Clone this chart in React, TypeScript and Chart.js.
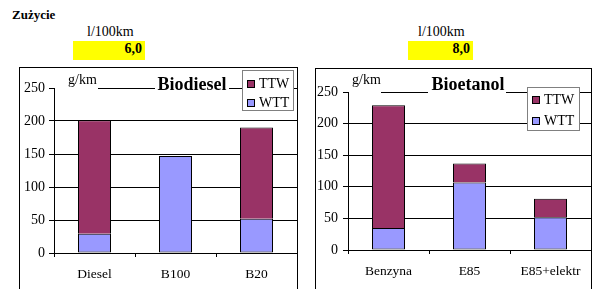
import React, { useEffect, useRef } from 'react';
import { Chart, registerables } from 'chart.js';

Chart.register(...registerables);

const FONT = "'Liberation Serif', 'Times New Roman', serif";
Chart.defaults.font.family = FONT;

const pageTitle = 'Zużycie';
const consumptionUnit = 'l/100km';
const consumptionValues = ['6,0', '8,0'];
const chartTitles = ['Biodiesel', 'Bioetanol'];
const unitLabel = 'g/km';
const seriesNames = ['WTT', 'TTW'];
const seriesColors = ['#9999FF', '#993366'];
const yTicks = [0, 50, 100, 150, 200, 250];

const biodieselCategories = ['Diesel', 'B100', 'B20'];
const biodieselWTT = [29, 147, 52];
const biodieselTTW = [172, 0, 138];

const bioetanolCategories = ['Benzyna', 'E85', 'E85+elektr'];
const bioetanolWTT = [35, 107, 52];
const bioetanolTTW = [194, 30, 29];

const overlayPlugin = {
  id: 'overlay',
  afterDraw(chart: any, _args: any, opts: any) {
    const ctx = chart.ctx as CanvasRenderingContext2D;
    const yTop = chart.scales.y.getPixelForValue(yTicks[yTicks.length - 1]);
    ctx.save();
    ctx.fillStyle = '#fff';
    for (const [x0, x1] of opts.gaps) ctx.fillRect(x0, yTop - 2, x1 - x0, 4);
    ctx.fillStyle = '#000';
    ctx.textBaseline = 'alphabetic';
    ctx.textAlign = 'left';
    ctx.font = `14px ${FONT}`;
    ctx.fillText(opts.unit, opts.unitX, opts.unitY);
    ctx.font = `bold 18px ${FONT}`;
    ctx.fillText(opts.title, opts.titleX, opts.titleY);
    const L = opts.legend;
    ctx.fillStyle = '#fff';
    ctx.fillRect(L.x, L.y, L.w, L.h);
    ctx.strokeStyle = '#808080';
    ctx.lineWidth = 1;
    ctx.strokeRect(L.x + 0.5, L.y + 0.5, L.w - 1, L.h - 1);
    const ds = chart.data.datasets.slice().reverse();
    ds.forEach((d: any, i: number) => {
      const cy = Math.round(L.y + L.firstRow + i * L.rowH);
      ctx.fillStyle = d.backgroundColor;
      ctx.fillRect(L.sx, cy - 4, 8, 8);
      ctx.strokeStyle = '#000';
      ctx.strokeRect(L.sx + 0.5, cy - 3.5, 7, 7);
      ctx.fillStyle = '#000';
      ctx.font = `14px ${FONT}`;
      ctx.textBaseline = 'middle';
      ctx.fillText(d.label, L.tx, cy);
    });
    ctx.restore();
  },
};

function makeConfig(cats: string[], wtt: number[], ttw: number[], overlay: any, dims: any): any {
  const values = [wtt, ttw];
  return {
    type: 'bar',
    data: {
      labels: cats,
      datasets: values.map((v, i) => ({
        label: seriesNames[i],
        data: v,
        backgroundColor: seriesColors[i],
        borderColor: '#000',
        borderWidth: 1,
        borderSkipped: i === 0 ? false : 'start',
        inflateAmount: 0,
        barPercentage: 33 / 81,
        categoryPercentage: 1,
      })),
    },
    options: {
      responsive: false,
      animation: false,
      layout: { padding: { top: dims.top, left: 0, right: 0, bottom: 0 } },
      plugins: {
        legend: { display: false },
        tooltip: { enabled: false },
        title: { display: false },
        overlay,
      },
      scales: {
        x: {
          stacked: true,
          grid: { drawOnChartArea: false, drawTicks: true, tickLength: 4, color: '#000', offset: true },
          border: { display: true, color: '#000' },
          ticks: { color: '#000', font: { size: 13.5, family: FONT }, padding: dims.xPad },
          afterFit: (s: any) => { s.height = dims.xH; },
        },
        y: {
          stacked: true,
          min: 0,
          max: 250,
          afterBuildTicks: (s: any) => { s.ticks = yTicks.map((v) => ({ value: v })); },
          ticks: { color: '#000', font: { size: 14, family: FONT }, padding: dims.yPad },
          grid: { color: '#000', tickLength: 5 },
          border: { display: true, color: '#000' },
          afterFit: (s: any) => { s.width = dims.yW; },
        },
      },
    },
    plugins: [overlayPlugin],
  };
}

function BarChart({ config, left, top, width, height }: any) {
  const ref = useRef<HTMLCanvasElement>(null);
  useEffect(() => {
    const chart = new Chart(ref.current as HTMLCanvasElement, config);
    return () => { chart.destroy(); };
  }, []);
  return (
    <canvas
      ref={ref}
      width={width}
      height={height}
      style={{ position: 'absolute', left, top, width, height }}
    />
  );
}

export default function App() {
  const leftCfg = makeConfig(
    biodieselCategories, biodieselWTT, biodieselTTW,
    {
      gaps: [[35, 78], [135, 209]],
      unit: unitLabel, unitX: 48, unitY: 16,
      title: chartTitles[0], titleX: 137.5, titleY: 21.5,
      legend: { x: 222, y: 2, w: 52, h: 41, firstRow: 13.5, rowH: 19.5, sx: 227, tx: 239 },
    },
    { top: 20, xH: 36, xPad: 9, yPad: 4, yW: 34 }
  );
  const rightCfg = makeConfig(
    bioetanolCategories, bioetanolWTT, bioetanolTTW,
    {
      gaps: [[33, 65], [112, 190]],
      unit: unitLabel, unitX: 36, unitY: 15,
      title: chartTitles[1], titleX: 115.5, titleY: 20.5,
      legend: { x: 211, y: 18, w: 53, h: 44, firstRow: 13, rowH: 21, sx: 216, tx: 228 },
    },
    { top: 23, xH: 39, xPad: 9, yPad: 5, yW: 32 }
  );
  const txt = (extra: any) => ({ position: 'absolute' as const, fontFamily: FONT, lineHeight: 1, color: '#000', whiteSpace: 'nowrap' as const, ...extra });
  return (
    <div style={{ position: 'fixed', left: 0, top: 0, width: 594, height: 289, overflow: 'hidden', background: '#fff' }}>
      <div style={txt({ left: 12, top: 8, fontSize: 13, fontWeight: 'bold' })}>{pageTitle}</div>
      <div style={txt({ left: 87, top: 25, fontSize: 14 })}>{consumptionUnit}</div>
      <div style={txt({ left: 73, top: 41, width: 72, height: 19, background: '#ffff00' })}>
        <span style={txt({ right: 3, top: 0.5, fontSize: 14, fontWeight: 'bold' })}>{consumptionValues[0]}</span>
      </div>
      <div style={txt({ left: 418, top: 25, fontSize: 14 })}>{consumptionUnit}</div>
      <div style={txt({ left: 408, top: 41, width: 65, height: 19, background: '#ffff00' })}>
        <span style={txt({ right: 3, top: 0.5, fontSize: 14, fontWeight: 'bold' })}>{consumptionValues[1]}</span>
      </div>
      <div style={{ position: 'absolute', left: 19, top: 67, width: 279, height: 240, border: '1px solid #000', boxSizing: 'border-box' }} />
      <div style={{ position: 'absolute', left: 315, top: 68, width: 277, height: 240, border: '1px solid #000', boxSizing: 'border-box' }} />
      <BarChart config={leftCfg} left={20} top={68} width={277} height={221} />
      <BarChart config={rightCfg} left={316} top={69} width={275} height={220} />
    </div>
  );
}
